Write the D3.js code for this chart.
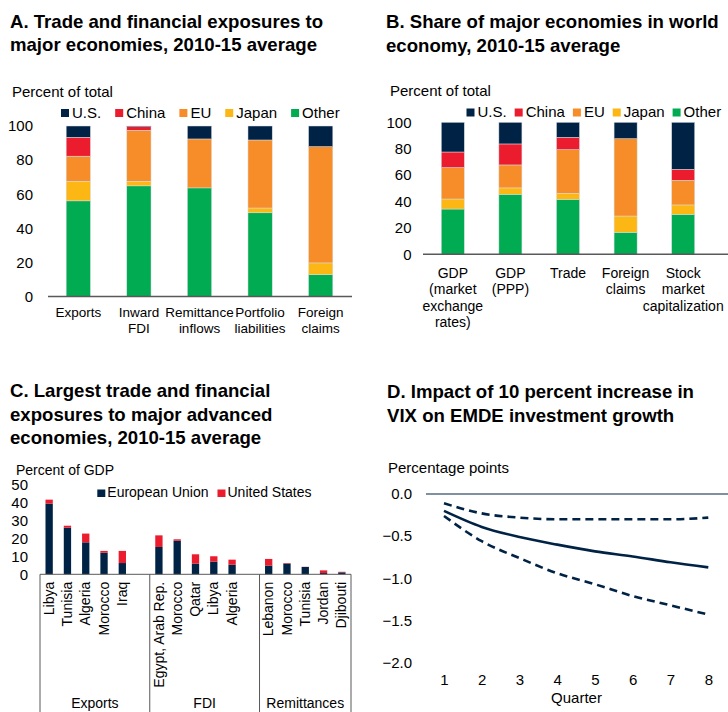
<!DOCTYPE html>
<html>
<head>
<meta charset="utf-8">
<script src="https://cdn.jsdelivr.net/npm/d3@7"></script>
<style>
  body { margin: 0; background: #fff; }
  svg { display: block; font-family: 'Liberation Sans', Arial, Helvetica, sans-serif; }
</style>
</head>
<body>
<svg id="chart" width="728" height="712"></svg>
<script>
// ---------- Shared series definitions ----------
const stackKeys = ["Other", "Japan", "EU", "China", "U.S."];   // bottom to top
const legendKeys = ["U.S.", "China", "EU", "Japan", "Other"];
const palette = {
  "U.S.": "#002345",
  "China": "#EB1C2D",
  "EU": "#F78D28",
  "Japan": "#FDB714",
  "Other": "#00AB51"
};

// ---------- Panel A: trade and financial exposures ----------
const catsA   = ["Exports", "Inward\nFDI", "Remittance\ninflows", "Portfolio\nliabilities", "Foreign\nclaims"];
const otherA  = [56.1, 64.9, 63.7, 49.1, 12.9];
const japanA  = [11.5, 2.7, 0.0, 2.8, 6.8];
const euA     = [14.7, 29.9, 28.7, 39.9, 68.2];
const chinaA  = [11.1, 2.1, 0.0, 0.0, 0.0];
const usA     = [6.6, 0.4, 7.6, 8.2, 12.1];
const ticksA  = [0, 20, 40, 60, 80, 100];

// ---------- Panel B: share of major economies ----------
const catsB   = ["GDP\n(market\nexchange\nrates)", "GDP\n(PPP)", "Trade", "Foreign\nclaims", "Stock\nmarket\ncapitalization"];
const otherB  = [34.3, 45.5, 41.7, 16.7, 30.3];
const japanB  = [7.6, 4.8, 4.5, 12.3, 7.1];
const euB     = [23.8, 17.4, 33.1, 58.6, 18.7];
const chinaB  = [11.8, 15.9, 9.3, 0.0, 8.3];
const usB     = [22.5, 16.4, 11.4, 12.4, 35.6];
const ticksB  = [0, 20, 40, 60, 80, 100];

// ---------- Panel C: largest exposures to advanced economies ----------
const groupsC    = ["Exports", "FDI", "Remittances"];
const countriesC = [
  ["Libya", "Tunisia", "Algeria", "Morocco", "Iraq"],
  ["Egypt, Arab Rep.", "Morocco", "Qatar", "Libya", "Algeria"],
  ["Lebanon", "Morocco", "Tunisia", "Jordan", "Djibouti"]
];
const euC = [
  [39.6, 26.1, 17.9, 12.1, 6.3],
  [15.3, 18.8, 6.0, 7.1, 5.4],
  [4.9, 6.0, 4.1, 0.7, 1.1]
];
const usC = [
  [2.2, 1.1, 4.9, 1.0, 6.8],
  [6.5, 0.8, 5.2, 3.0, 2.8],
  [3.7, 0.3, 0.1, 1.5, 0.3]
];
const ticksC = [0, 10, 20, 30, 40, 50];
const legendC = ["European Union", "United States"];
const colorsC = ["#002345", "#EB1C2D"];

// ---------- Panel D: VIX impact on investment growth ----------
const quartersD = [1, 2, 3, 4, 5, 6, 7, 8];
const centralD  = [-0.20, -0.39, -0.51, -0.60, -0.68, -0.74, -0.81, -0.87];
const upperD    = [-0.11, -0.23, -0.28, -0.30, -0.30, -0.30, -0.30, -0.28];
const lowerD    = [-0.26, -0.56, -0.76, -0.94, -1.07, -1.21, -1.32, -1.43];
const ticksD    = [0, -0.5, -1.0, -1.5, -2.0];

const svg = d3.select("#chart");
const ink = "#000";
const axisGray = "#595959";

// ---------- helpers ----------
function title(x, y, lines) {
  const t = svg.append("text")
    .attr("x", x).attr("y", y)
    .attr("font-size", 18.6).attr("font-weight", "bold").attr("fill", ink);
  lines.forEach((l, i) => t.append("tspan").attr("x", x).attr("dy", i ? 23.5 : 0).text(l));
}

function plainText(x, y, s, size, anchor) {
  return svg.append("text").attr("x", x).attr("y", y)
    .attr("font-size", size).attr("fill", ink)
    .attr("text-anchor", anchor || "start").text(s);
}

function legend(x0, y, keys, colorOf, gap, size) {
  let x = x0;
  keys.forEach(k => {
    svg.append("rect").attr("x", x).attr("y", y - 8.5).attr("width", 8).attr("height", 8)
      .attr("fill", colorOf(k));
    const t = plainText(x + 11, y, k, size);
    x += 11 + t.node().getComputedTextLength() + gap;
  });
}

function multiLineAxisLabels(axisG, size, lineH) {
  axisG.selectAll(".tick text").each(function(d) {
    const t = d3.select(this);
    const lines = String(d).split("\n");
    t.text(null);
    lines.forEach((l, i) => t.append("tspan").attr("x", 0)
      .attr("dy", i === 0 ? "0.71em" : lineH + "em").text(l));
  });
  axisG.selectAll(".tick text").attr("font-size", size).attr("fill", ink);
}

function stackedPanel(cfg) {
  const rows = cfg.cats.map((c, i) => ({
    cat: c, "Other": cfg.other[i], "Japan": cfg.japan[i], "EU": cfg.eu[i],
    "China": cfg.china[i], "U.S.": cfg.us[i]
  }));
  const x = d3.scaleBand().domain(cfg.cats).range(cfg.xRange)
    .paddingInner(0.6).paddingOuter(0.3);
  const y = d3.scaleLinear().domain([0, 100]).range(cfg.yRange);
  const stacked = d3.stack().keys(stackKeys)(rows);

  const g = svg.append("g");
  g.selectAll("g.layer").data(stacked).join("g")
    .attr("class", "layer").attr("fill", d => palette[d.key])
    .selectAll("rect").data(d => d.filter(p => p[1] - p[0] > 0)).join("rect")
    .attr("x", d => x(d.data.cat))
    .attr("width", x.bandwidth())
    .attr("y", d => y(d[1]))
    .attr("height", d => y(d[0]) - y(d[1]))
    .attr("stroke", "#d9dde3").attr("stroke-width", 0.5);

  // value axis
  const ya = g.append("g").attr("transform", `translate(${cfg.axisLeft},0)`)
    .call(d3.axisLeft(y).tickValues(cfg.ticks).tickSize(0).tickPadding(cfg.tickPad));
  ya.select(".domain").remove();
  ya.selectAll("text").attr("font-size", 15).attr("fill", ink)
    .attr("font-family", null);

  // category axis
  const xa = g.append("g").attr("transform", `translate(0,${cfg.yRange[0]})`)
    .call(d3.axisBottom(x).tickSize(0).tickPadding(cfg.catPad));
  xa.select(".domain").remove();
  xa.selectAll("text").attr("font-family", null);
  multiLineAxisLabels(xa, cfg.catSize, cfg.lineH);

  g.append("line")
    .attr("x1", cfg.axisLeft).attr("x2", cfg.axisRight)
    .attr("y1", cfg.yRange[0]).attr("y2", cfg.yRange[0])
    .attr("stroke", axisGray).attr("stroke-width", 1.5);
}

// ================= Panel A =================
title(10, 27.5, ["A. Trade and financial exposures to", "major economies, 2010-15 average"]);
plainText(12, 97, "Percent of total", 15);
legend(61, 117.5, legendKeys, k => palette[k], 14, 15);
stackedPanel({
  cats: catsA, other: otherA, japan: japanA, eu: euA, china: chinaA, us: usA,
  xRange: [48, 351], yRange: [296.5, 126], ticks: ticksA,
  axisLeft: 48, axisRight: 352, tickPad: 15, catPad: 10.5, catSize: 13.5, lineH: 1.2
});

// ================= Panel B =================
title(386, 28, ["B. Share of major economies in world", "economy, 2010-15 average"]);
plainText(390, 96, "Percent of total", 15);
legend(466.5, 117, legendKeys, k => palette[k], 8, 15);
stackedPanel({
  cats: catsB, other: otherB, japan: japanB, eu: euB, china: chinaB, us: usB,
  xRange: [424, 712], yRange: [254.3, 122.3], ticks: ticksB,
  axisLeft: 423, axisRight: 728, tickPad: 11.5, catPad: 13.7, catSize: 14, lineH: 1.18
});

// ================= Panel C =================
title(10, 397, ["C. Largest trade and financial", "exposures to major advanced", "economies, 2010-15 average"]);
plainText(16, 475, "Percent of GDP", 14);

// 17 slots: five countries per group, one empty slot between groups
const slotsC = [];
groupsC.forEach((grp, gi) => {
  countriesC[gi].forEach((c, ci) => slotsC.push({
    id: grp + "|" + c, group: grp, country: c, eu: euC[gi][ci], us: usC[gi][ci]
  }));
  if (gi < groupsC.length - 1) slotsC.push({ id: "gap" + gi, group: null, country: "" });
});
const barsC = slotsC.filter(s => s.group);

const xC = d3.scaleBand().domain(slotsC.map(s => s.id)).range([40, 351])
  .paddingInner(0.6).paddingOuter(0.3);
const yC = d3.scaleLinear().domain([0, 50]).range([574.3, 485]);
const stackC = d3.stack().keys(["eu", "us"])(barsC);

const gC = svg.append("g");
gC.selectAll("g.layer").data(stackC).join("g")
  .attr("class", "layer").attr("fill", (d, i) => colorsC[i])
  .selectAll("rect").data(d => d.filter(p => p[1] - p[0] > 0)).join("rect")
  .attr("x", d => xC(d.data.id))
  .attr("width", xC.bandwidth())
  .attr("y", d => yC(d[1]))
  .attr("height", d => yC(d[0]) - yC(d[1]));

const yaC = gC.append("g").attr("transform", "translate(40,0)")
  .call(d3.axisLeft(yC).tickValues(ticksC).tickSize(0).tickPadding(12));
yaC.select(".domain").remove();
yaC.selectAll("text").attr("font-size", 15).attr("fill", ink).attr("font-family", null);

const countryOf = new Map(slotsC.map(s => [s.id, s.country]));
const xaC = gC.append("g").attr("transform", `translate(0,${yC(0)})`)
  .call(d3.axisBottom(xC).tickSize(0).tickFormat(id => countryOf.get(id)));
xaC.select(".domain").remove();
xaC.selectAll("text")
  .attr("font-family", null).attr("font-size", 14).attr("fill", ink)
  .attr("transform", "rotate(-90)")
  .attr("text-anchor", "end")
  .attr("x", -7.5).attr("y", 0).attr("dy", "0.33em");

// baseline and group separators
gC.append("line").attr("x1", 40).attr("x2", 351).attr("y1", yC(0)).attr("y2", yC(0))
  .attr("stroke", axisGray).attr("stroke-width", 1);
const step = xC.step();
const bounds = [40];
groupsC.forEach((grp, gi) => bounds.push(gi < groupsC.length - 1 ? 40 + (gi + 1) * 6 * step : 351));
bounds.forEach(bx => gC.append("line")
  .attr("x1", bx).attr("x2", bx).attr("y1", yC(0)).attr("y2", 712)
  .attr("stroke", axisGray).attr("stroke-width", 1));
groupsC.forEach((grp, gi) => plainText((bounds[gi] + bounds[gi + 1]) / 2, 707.5, grp, 14, "middle"));

// legend
let lx = 97.3;
legendC.forEach((k, i) => {
  svg.append("rect").attr("x", lx).attr("y", 489.5).attr("width", 8).attr("height", 7.5)
    .attr("fill", colorsC[i]);
  const t = plainText(lx + 10, 497, k, 14);
  lx += 10 + t.node().getComputedTextLength() + 9;
});

// ================= Panel D =================
title(387, 398, ["D. Impact of 10 percent increase in", "VIX on EMDE investment growth"]);
plainText(388, 473, "Percentage points", 15);

const xD = d3.scaleLinear().domain([1, 8]).range([444, 708.3]);
const yD = d3.scaleLinear().domain([-2, 0]).range([662.7, 494]);
const gD = svg.append("g");

const yaD = gD.append("g").attr("transform", "translate(412,0)")
  .call(d3.axisLeft(yD).tickValues(ticksD).tickSize(0).tickPadding(0).tickFormat(d3.format(".1f")));
yaD.select(".domain").remove();
yaD.selectAll("text").attr("font-size", 15).attr("fill", ink).attr("font-family", null);

const xaD = gD.append("g").attr("transform", "translate(0,674)")
  .call(d3.axisBottom(xD).tickValues(quartersD).tickSize(0).tickPadding(0).tickFormat(d3.format("d")));
xaD.select(".domain").remove();
xaD.selectAll("text").attr("font-size", 15).attr("fill", ink).attr("font-family", null);
plainText(576.5, 703, "Quarter", 15, "middle");

gD.append("line").attr("x1", 426).attr("x2", 728).attr("y1", yD(0)).attr("y2", yD(0))
  .attr("stroke", "#002345").attr("stroke-width", 1.2);

const lineD = d3.line().x((d, i) => xD(quartersD[i])).y(d => yD(d)).curve(d3.curveMonotoneX);
[[upperD, "8,5"], [lowerD, "8,5"], [centralD, null]].forEach(([vals, dash]) => {
  gD.append("path").attr("d", lineD(vals))
    .attr("fill", "none").attr("stroke", "#002345").attr("stroke-width", 2.6)
    .attr("stroke-dasharray", dash);
});
</script>
</body>
</html>
